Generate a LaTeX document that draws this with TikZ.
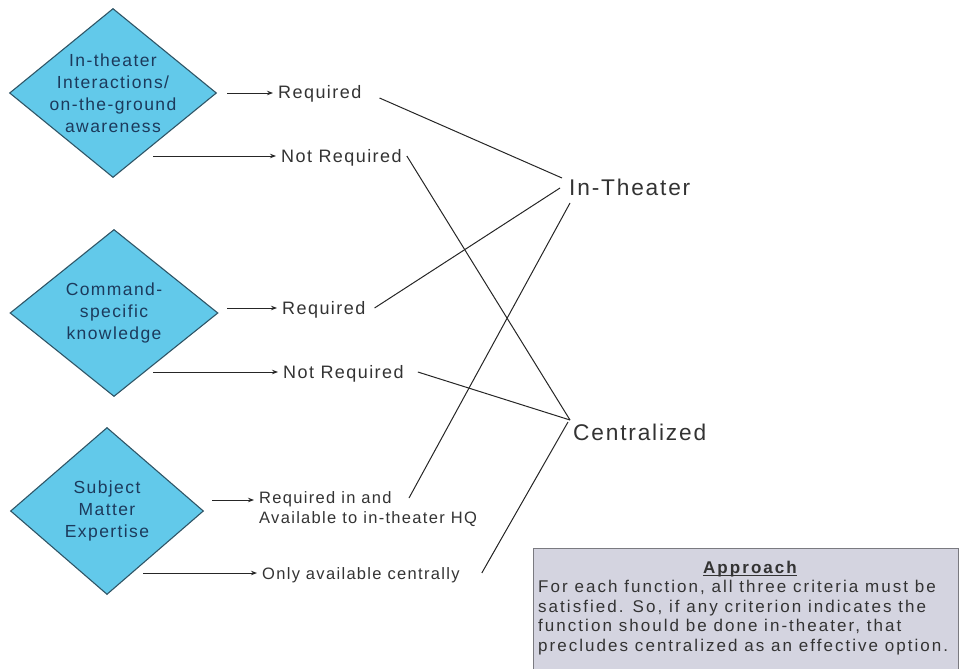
\documentclass[tikz,border=0pt]{standalone}
\usepackage{fontspec}
\setmainfont{Liberation Sans}
\newfontfamily\spaced{Liberation Sans}[LetterSpace=8]
\newfontfamily\wide{Liberation Sans}[LetterSpace=12]
\usetikzlibrary{shapes.geometric,arrows.meta}
\definecolor{dfill}{HTML}{62C9EA}
\definecolor{dline}{HTML}{2F5566}
\definecolor{dtext}{HTML}{1C3A5C}
\definecolor{ltext}{HTML}{333333}
\definecolor{bfill}{HTML}{D4D4E0}
\definecolor{bline}{HTML}{7A7A80}
\begin{document}
\begin{tikzpicture}[x=1pt,y=-1pt,
  crit/.style={diamond, draw=dline, line width=1.1pt, fill=dfill, inner sep=0pt},
  crittext/.style={text=dtext, align=center, inner sep=0pt,
    font=\spaced\fontsize{17.5}{22}\selectfont},
  lab/.style={anchor=west, inner sep=0pt, text=ltext, text height=12pt, text depth=0pt,
    font=\spaced\fontsize{18}{20}\selectfont},
  smalllab/.style={lab, font=\spaced\fontsize{16.5}{20}\selectfont},
  outcome/.style={anchor=west, inner sep=0pt, text=ltext,
    font=\spaced\fontsize{22.7}{26}\selectfont},
  arr/.style={-{Stealth[length=6pt,width=4.5pt]}, line width=1pt, draw=black!85, shorten >=5pt},
  link/.style={line width=1pt, draw=black!85},
  notebox/.style={draw=bline, line width=1pt, fill=bfill, anchor=north west, inner sep=0pt},
  notetext/.style={inner sep=0pt, text=ltext, font=\wide\fontsize{17}{19.7}\selectfont}
]
\useasboundingbox (0,0) rectangle (961,669);

% criteria diamonds
\node[crit, minimum width=207pt, minimum height=169pt] (d1) at (113,93) {};
\node[crittext] (t1) at (d1) {In-theater\\Interactions/\\on-the-ground\\awareness};
\node[crit, minimum width=208pt, minimum height=167pt] (d2) at (114,313) {};
\node[crittext] (t2) at (d2) {Command-\\specific\\knowledge};
\node[crit, minimum width=193pt, minimum height=167pt] (d3) at (107,511) {};
\node[crittext] (t3) at (d3) {Subject\\Matter\\Expertise};

% answer labels
\node[lab] (r1) at (278,93) {Required};
\node[lab] (n1) at (281,156) {Not Required};
\node[lab] (r2) at (282,308) {Required};
\node[lab] (n2) at (283,372) {Not Required};
\node[smalllab, anchor=north west, align=left, text height=, text depth=] (r3) at (259,491) {Required in and\\Available to in-theater HQ};
\node[smalllab] (n3) at (262,573) {Only available centrally};

% outcomes
\node[outcome] (it) at (569,187) {In-Theater};
\node[outcome] (ce) at (573,432) {Centralized};

% arrow start points on the diamonds
\coordinate (a1) at (227,93);
\coordinate (b1) at (153,156);
\coordinate (a2) at (227,308);
\coordinate (b2) at (153,372);
\coordinate (a3) at (212,500);
\coordinate (b3) at (143,573);

\draw[arr] (a1) -- (r1.west);
\draw[arr] (b1) -- (n1.west);
\draw[arr] (a2) -- (r2.west);
\draw[arr] (b2) -- (n2.west);
\draw[arr] (a3) -- (a3 -| r3.west);
\draw[arr] (b3) -- (n3.west);

% links to outcomes
\draw[link] ([shift={(18,5)}]r1.east) -- ([shift={(-7,-9)}]it.west);
\draw[link] ([shift={(5,0)}]n1.east) -- ([shift={(-3,-12)}]ce.west);
\draw[link] ([shift={(9,0)}]r2.east) -- ([shift={(-9,1)}]it.west);
\draw[link] ([shift={(14,0)}]n2.east) -- ([shift={(-3,-12)}]ce.west);
\draw[link] ([shift={(150,7)}]r3.north west) -- ([shift={(1,16)}]it.west);
\draw[link] ([shift={(22,0)}]n3.east) -- ([shift={(-5,-10)}]ce.west);

% approach note
\node[notebox, minimum width=425pt, minimum height=135pt] (box) at (533,548) {};
\node[notetext, anchor=base, font=\wide\fontsize{17}{19.7}\selectfont\bfseries] (ap) at (750,573) {Approach};
\draw[line width=1pt, draw=ltext] ([yshift=-2.5pt]ap.base west) -- ([yshift=-2.5pt]ap.base east);
\node[notetext, anchor=north west, align=left] (body) at (538,580)
  {For each function, all three criteria must be\\
   satisfied. So, if any criterion indicates the\\
   function should be done in-theater, that\\
   precludes centralized as an effective option.};
\end{tikzpicture}
\end{document}
